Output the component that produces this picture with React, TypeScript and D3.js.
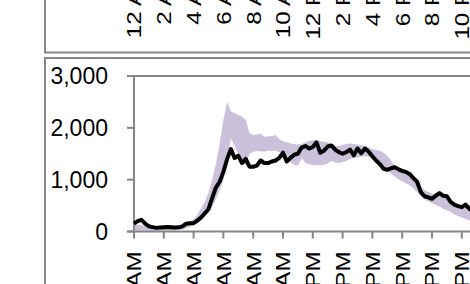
import { useEffect, useRef } from 'react';
import * as d3 from 'd3';

// 15-minute slots, 12 AM onwards
const tickLabels = ['12 AM', '2 AM', '4 AM', '6 AM', '8 AM', '10 AM', '12 PM', '2 PM', '4 PM', '6 PM', '8 PM', '10 PM'];
const yTicks = [0, 1000, 2000, 3000];

const today = [
  150, 200, 226, 150, 100, 85, 70, 75, 80, 85, 80, 75, 80, 100, 150, 160,
  160, 210, 270, 350, 430, 650, 850, 960, 1150, 1400, 1590, 1420, 1460, 1320, 1400, 1250,
  1250, 1270, 1370, 1320, 1320, 1350, 1370, 1420, 1520, 1350, 1420, 1480, 1500, 1620, 1650, 1600,
  1630, 1720, 1520, 1560, 1640, 1660, 1580, 1530, 1500, 1530, 1580, 1470, 1600, 1510, 1600, 1540,
  1450, 1370, 1300, 1210, 1190, 1220, 1240, 1200, 1170, 1150, 1110, 1030, 960, 760, 680, 660,
  630, 690, 740, 690, 680, 570, 520, 490, 470, 520, 440, 400, 360, 330, 300, 260,
];

const rangeHigh = [
  120, 130, 120, 100, 90, 80, 75, 70, 75, 80, 80, 85, 100, 120, 150, 180,
  230, 320, 450, 580, 750, 1000, 1300, 1700, 2150, 2500, 2320, 2280, 2250, 2220, 2150, 1900,
  1860, 1870, 1890, 1830, 1840, 1840, 1860, 1780, 1740, 1720, 1700, 1690, 1680, 1690, 1720, 1750,
  1760, 1750, 1740, 1730, 1720, 1680, 1640, 1650, 1670, 1690, 1700, 1690, 1680, 1670, 1650, 1620,
  1590, 1570, 1560, 1520, 1460, 1360, 1280, 1220, 1180, 1150, 1120, 1080, 1010, 870, 800, 760,
  740, 720, 710, 690, 640, 590, 550, 520, 500, 480, 460, 430, 400, 370, 340, 310,
];

const rangeLow = [
  20, 20, 20, 20, 15, 15, 15, 15, 15, 20, 20, 25, 30, 40, 60, 90,
  120, 170, 230, 300, 380, 480, 620, 800, 1000, 1350, 1800, 1650, 1500, 1380, 1280, 1500,
  1540, 1550, 1550, 1540, 1560, 1560, 1560, 1530, 1480, 1420, 1330, 1290, 1270, 1420, 1320, 1300,
  1280, 1280, 1280, 1290, 1310, 1360, 1330, 1320, 1340, 1360, 1400, 1420, 1430, 1440, 1450, 1440,
  1420, 1360, 1260, 1220, 1170, 1120, 1060, 1010, 970, 930, 890, 830, 760, 680, 620, 580,
  550, 510, 480, 440, 410, 380, 330, 300, 270, 240, 210, 190, 170, 150, 130, 110,
];

const width = 470;
const height = 284;
const font = '"Liberation Sans", Arial, sans-serif';
const axisColor = '#868686';

export default function App() {
  const svgRef = useRef<SVGSVGElement>(null);

  useEffect(() => {
    if (!svgRef.current) return;
    const svg = d3.select(svgRef.current);
    svg.selectAll('*').remove();

    const x = d3.scaleLinear().domain([0, 95]).range([134, 134 + 95 * 3.725]);
    const y = d3.scaleLinear().domain([0, 3000]).range([231.5, 76]);
    const tickIdx = tickLabels.map((_, i) => i * 8);

    // rotated category labels, stretched a little along the text like the source
    const rotLabel = (g: d3.Selection<SVGSVGElement, unknown, null, undefined>, tx: number, ty: number, t: string) =>
      g.append('text')
        .attr('transform', `translate(${tx},${ty}) rotate(-90) scale(1.15,1)`)
        .attr('text-anchor', 'end')
        .attr('dy', '0.35em')
        .attr('font-family', font)
        .attr('font-size', '21px')
        .attr('fill', '#000')
        .text(t);

    svg.append('rect').attr('width', width).attr('height', height).attr('fill', '#fff');

    // chart above (only its bottom is in view)
    svg.append('rect')
      .attr('x', 45).attr('y', -20)
      .attr('width', 500).attr('height', 72.5)
      .attr('fill', '#fff')
      .attr('stroke', axisColor).attr('stroke-width', 2);

    tickLabels.forEach((t, i) => rotLabel(svg, x(tickIdx[i]), -30.2, t));

    // this chart
    svg.append('rect')
      .attr('x', 45).attr('y', 58)
      .attr('width', 500).attr('height', 300)
      .attr('fill', '#fff')
      .attr('stroke', axisColor).attr('stroke-width', 2);

    const band = d3.area<number>()
      .x((_, i) => x(i))
      .y0((_, i) => y(rangeLow[i]))
      .y1(d => y(d));

    svg.append('path')
      .datum(rangeHigh)
      .attr('d', band)
      .attr('fill', '#CCC1DA');

    const line = d3.line<number>()
      .x((_, i) => x(i))
      .y(d => y(d));

    // axes
    svg.append('line')
      .attr('x1', 134).attr('x2', 134)
      .attr('y1', y(3000)).attr('y2', y(0))
      .attr('stroke', axisColor).attr('stroke-width', 2);

    svg.append('line')
      .attr('x1', 134).attr('x2', width + 10)
      .attr('y1', y(3000)).attr('y2', y(3000))
      .attr('stroke', axisColor).attr('stroke-width', 2);

    yTicks.forEach(v => {
      svg.append('line')
        .attr('x1', 127).attr('x2', 134)
        .attr('y1', y(v)).attr('y2', y(v))
        .attr('stroke', axisColor).attr('stroke-width', 2);
      svg.append('text')
        .attr('x', 108).attr('y', y(v))
        .attr('dy', '0.35em')
        .attr('text-anchor', 'end')
        .attr('font-family', font)
        .attr('font-size', '23px')
        .attr('fill', '#000')
        .text(d3.format(',')(v));
    });

    svg.append('line')
      .attr('x1', 127).attr('x2', width + 10)
      .attr('y1', y(0)).attr('y2', y(0))
      .attr('stroke', axisColor).attr('stroke-width', 2);

    tickIdx.forEach((d, i) => {
      svg.append('line')
        .attr('x1', x(d)).attr('x2', x(d))
        .attr('y1', y(0)).attr('y2', y(0) + 7)
        .attr('stroke', axisColor).attr('stroke-width', 2);
      rotLabel(svg, x(d), 251.5, tickLabels[i]);
    });

    svg.append('path')
      .datum(today)
      .attr('d', line)
      .attr('fill', 'none')
      .attr('stroke', '#000')
      .attr('stroke-width', 4)
      .attr('stroke-linejoin', 'round');
  }, []);

  return (
    <svg
      ref={svgRef}
      width={width}
      height={height}
      style={{ position: 'absolute', left: 0, top: 0 }}
    />
  );
}
